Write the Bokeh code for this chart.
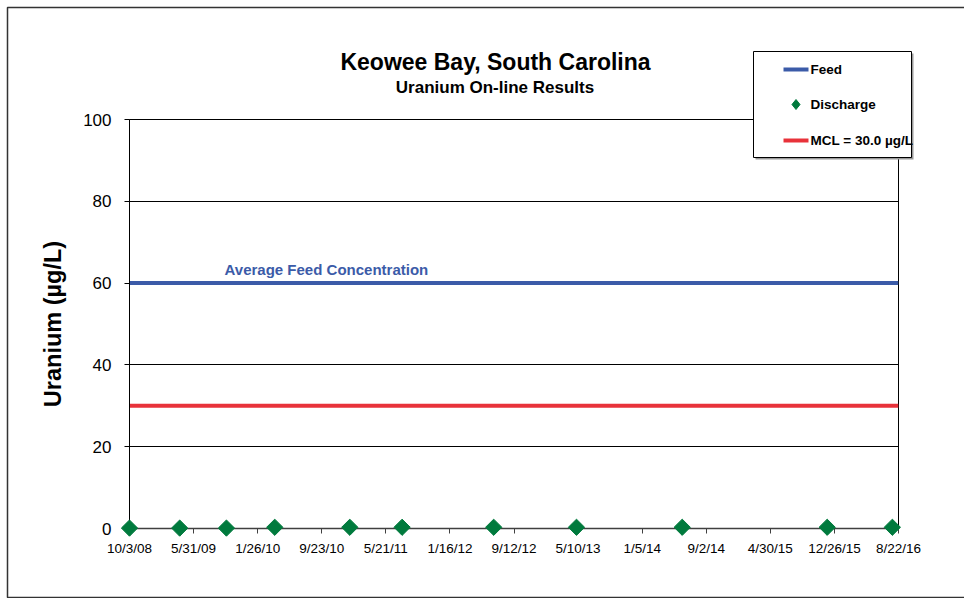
import math
import datetime as dt
from bokeh.plotting import figure
from bokeh.models import FixedTicker, Label, Range1d
from bokeh.core.properties import value
from bokeh.embed import file_html
from bokeh.resources import INLINE

# ---------------- data ----------------
tick_labels = ["10/3/08", "5/31/09", "1/26/10", "9/23/10", "5/21/11", "1/16/12",
               "9/12/12", "5/10/13", "1/5/14", "9/2/14", "4/30/15", "12/26/15", "8/22/16"]
y_ticks = [0, 20, 40, 60, 80, 100]

discharge_dates = ["10/3/08", "4/9/09", "10/1/09", "3/31/10", "1/6/11", "7/21/11",
                   "6/28/12", "5/4/13", "6/4/14", "11/29/15", "7/30/16"]
discharge_values = [0.1, 0.1, 0.1, 0.3, 0.3, 0.3, 0.3, 0.3, 0.3, 0.3, 0.3]

feed_dates = ["10/3/08", "8/22/16"]
feed_values = [60, 60]
mcl_dates = ["10/3/08", "8/22/16"]
mcl_values = [30, 30]

legend_labels = ["Feed", "Discharge", "MCL = 30.0 µg/L"]
title_text = "Keowee Bay, South Carolina"
subtitle_text = "Uranium On-line Results"

avg_label_date = "9/24/09"
avg_label_y = 63.4

BLUE = "#3b5ba8"
RED = "#e8323a"
GREEN = "#007a3d"
FONT = "Liberation Sans"

# frame geometry (pixels on the canvas)
FL, FR, FT, FB = 129, 898, 119, 528
W, H = 964, 598


def ms(s):
    d = dt.datetime.strptime(s, "%m/%d/%y")
    return int((d - dt.datetime(1970, 1, 1)).total_seconds() * 1000)


tick_ms = [ms(t) for t in tick_labels]
X0, X1 = tick_ms[0], tick_ms[-1]
Y0, Y1 = 0, 100


def xpx(px):
    return X0 + (px - FL) / (FR - FL) * (X1 - X0)


def ypx(py):
    return Y0 + (FB - py) / (FB - FT) * (Y1 - Y0)


p = figure(width=W, height=H,
           x_range=Range1d(X0, X1), y_range=Range1d(Y0, Y1),
           output_backend="svg", toolbar_location=None,
           min_border_left=FL, min_border_right=W - FR, min_border_top=FT,
           min_border_bottom=H - FB,
           background_fill_color="white", border_fill_color="white",
           outline_line_color="black", outline_line_width=1)

# axes
xa = p.xaxis[0]
xa.ticker = FixedTicker(ticks=tick_ms)
xa.major_label_overrides = dict(zip(tick_ms, tick_labels))
xa.minor_tick_line_color = None
xa.major_tick_in = 0
xa.major_tick_out = 5
xa.axis_line_color = "#404040"
xa.axis_line_width = 1.5
xa.major_tick_line_color = "#404040"
xa.major_label_text_font = FONT
xa.major_label_text_font_size = "13.5px"
xa.major_label_text_color = "black"
xa.major_label_standoff = 7

ya = p.yaxis[0]
ya.ticker = FixedTicker(ticks=y_ticks)
ya.minor_tick_line_color = None
ya.major_tick_in = 0
ya.major_tick_out = 5
ya.axis_line_color = "black"
ya.major_tick_line_color = "black"
ya.major_label_text_font = FONT
ya.major_label_text_font_size = "17px"
ya.major_label_text_color = "black"
ya.major_label_standoff = 13
ya.axis_label = "Uranium (µg/L)"
ya.axis_label_text_font = FONT
ya.axis_label_text_font_style = "bold"
ya.axis_label_text_font_size = "23.5px"
ya.axis_label_text_color = "black"
ya.axis_label_standoff = 14

p.xgrid.visible = False
p.ygrid.grid_line_color = "black"
p.ygrid.grid_line_width = 1

# series
feed_r = p.line([ms(d) for d in feed_dates], feed_values, line_color=BLUE, line_width=4)
mcl_r = p.line([ms(d) for d in mcl_dates], mcl_values, line_color=RED, line_width=4)
dis_r = p.scatter([ms(d) for d in discharge_dates], discharge_values, marker="square",
                  angle=math.pi / 4, size=11.5, fill_color=GREEN, line_color=GREEN,
                  level="overlay")

p.add_layout(Label(x=ms(avg_label_date), y=avg_label_y,
                   text="Average Feed Concentration", text_color=BLUE,
                   text_font=FONT, text_font_style="bold", text_font_size="15px",
                   text_baseline="alphabetic"))

# titles (overlay text, placed above the frame)
p.text(x=[xpx(495)], y=[ypx(61)], text=[title_text], text_font=value(FONT),
       text_font_style="bold", text_font_size="23px", text_color="black",
       text_align="center", text_baseline="middle", level="overlay")
p.text(x=[xpx(494.5)], y=[ypx(87)], text=[subtitle_text], text_font=value(FONT),
       text_font_style="bold", text_font_size="17px", text_color="black",
       text_align="center", text_baseline="middle", level="overlay")

# outer chart border (drawn as an overlay glyph so it is not clipped to the frame)
p.quad(left=[xpx(7)], right=[xpx(1200)], top=[ypx(7)], bottom=[ypx(H - 1)],
       fill_alpha=0, line_color="#333333", line_width=1.5, level="overlay")

# legend: shadow, box, sample glyphs and labels
p.quad(left=[xpx(755)], right=[xpx(913)], top=[ypx(53)], bottom=[ypx(159)],
       fill_color="#9a9a9a", line_alpha=0, level="overlay")
p.quad(left=[xpx(753)], right=[xpx(911)], top=[ypx(51)], bottom=[ypx(157)],
       fill_color="white", line_color="black", line_width=1, level="overlay")
row_y = [ypx(69), ypx(104), ypx(140)]
p.segment(x0=[xpx(783)], y0=[row_y[0]], x1=[xpx(808)], y1=[row_y[0]],
          line_color=BLUE, line_width=4, level="overlay")
p.patch(x=[xpx(791.5), xpx(795.5), xpx(799.5), xpx(795.5)],
        y=[row_y[1], ypx(99), row_y[1], ypx(109)],
        fill_color=GREEN, line_color=GREEN, line_width=1, level="overlay")
p.segment(x0=[xpx(783)], y0=[row_y[2]], x1=[xpx(808)], y1=[row_y[2]],
          line_color=RED, line_width=4, level="overlay")
p.text(x=[xpx(810)] * 3, y=row_y, text=legend_labels,
       text_font=value(FONT), text_font_style="bold", text_font_size="13.5px",
       text_color="black", text_baseline="middle", text_align="left", level="overlay")

open("out.html", "w").write(file_html(p, INLINE))
